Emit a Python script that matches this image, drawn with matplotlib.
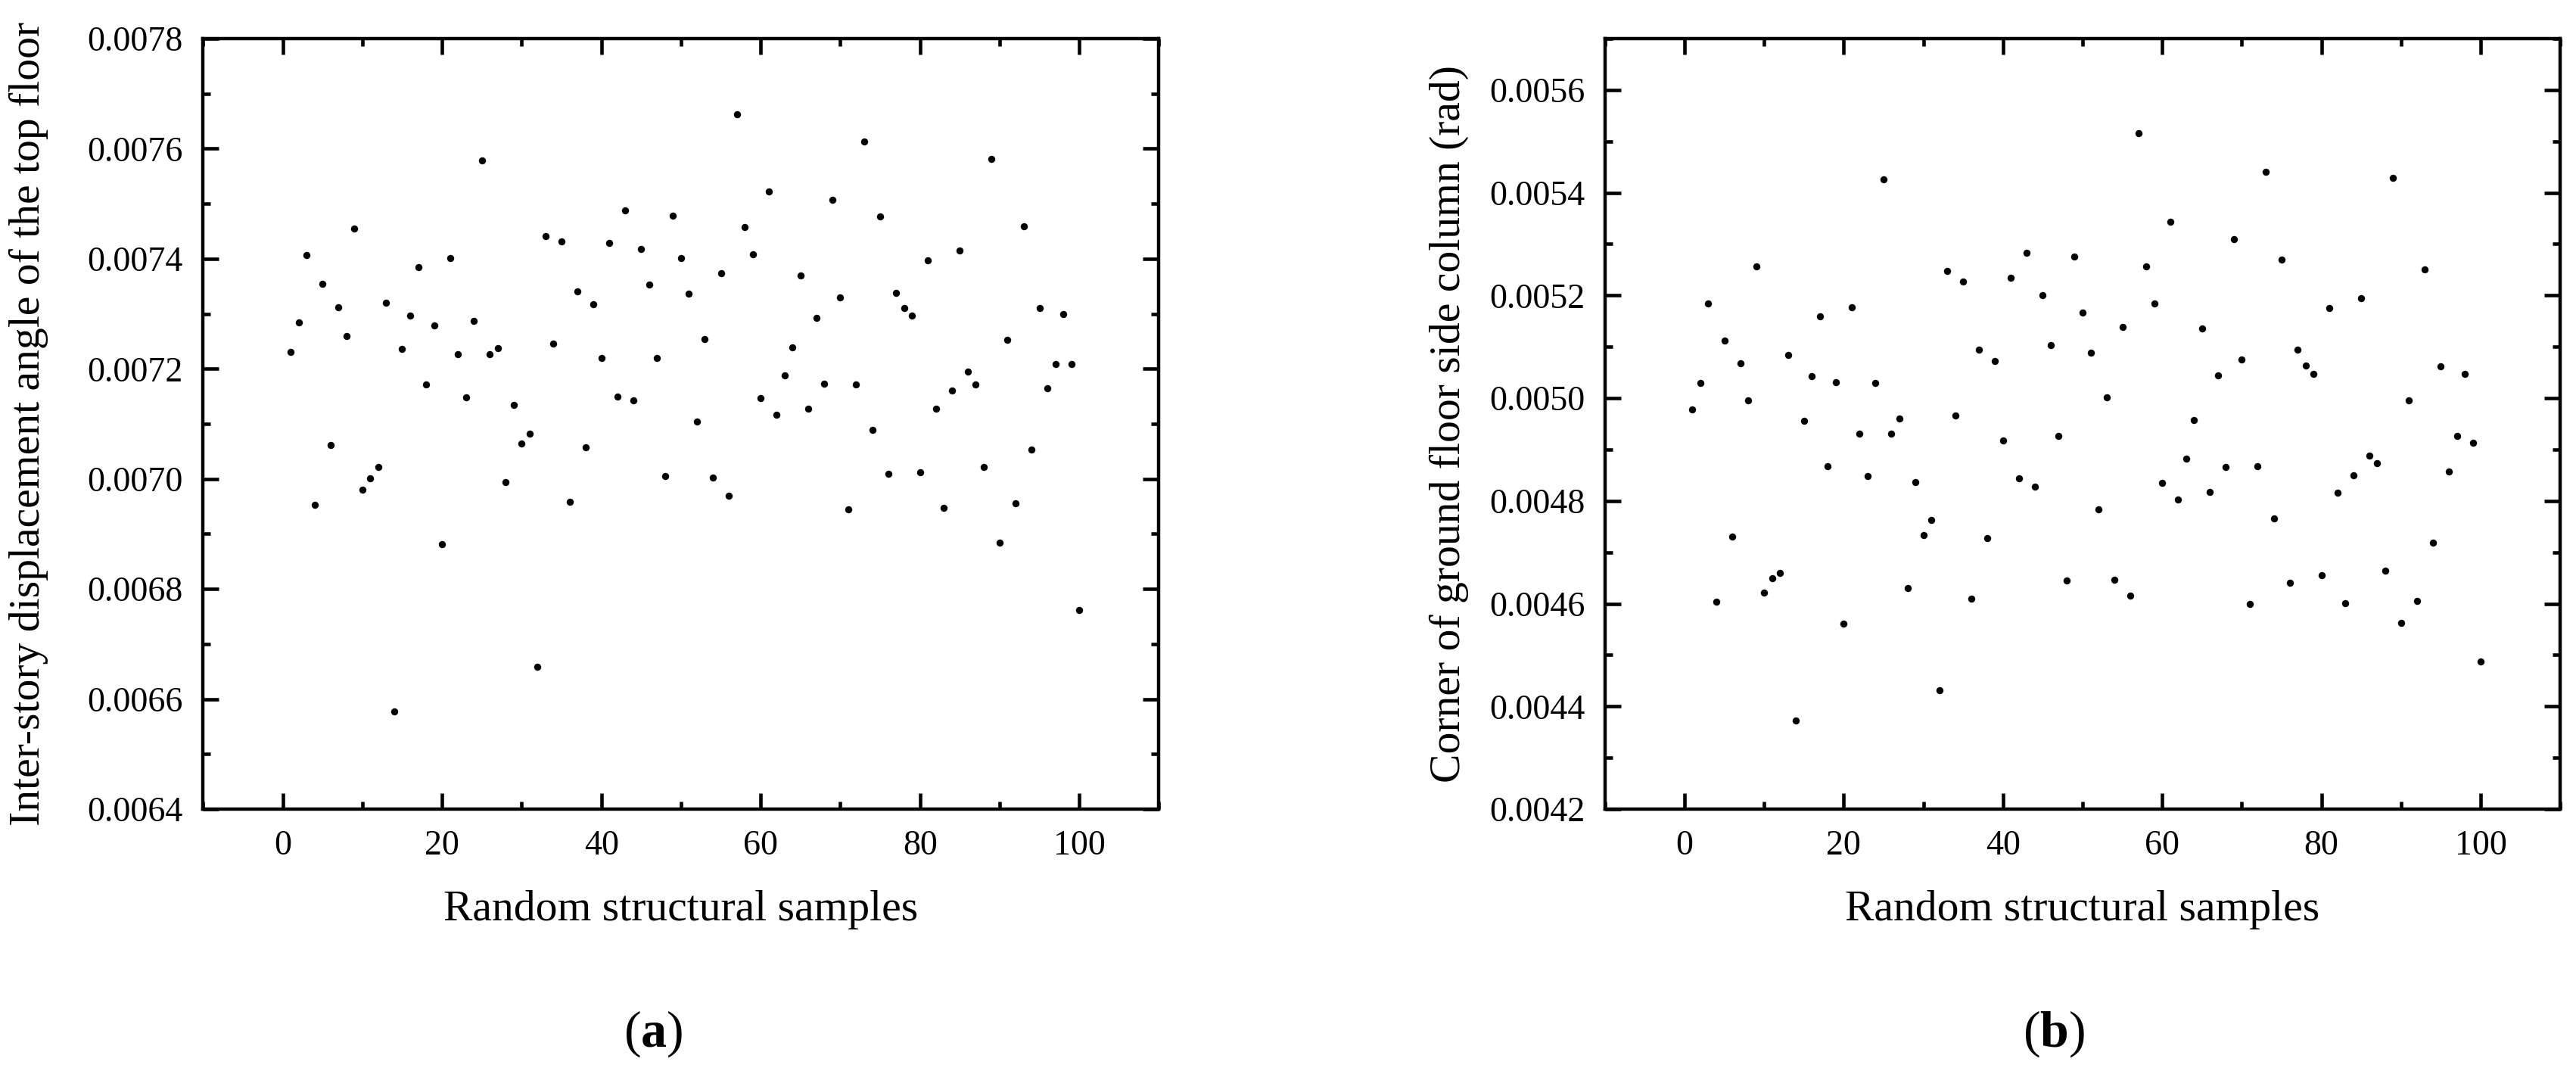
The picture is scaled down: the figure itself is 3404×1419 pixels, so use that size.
import numpy as np
import matplotlib
matplotlib.use("Agg")
import matplotlib.pyplot as plt
from matplotlib.ticker import MultipleLocator, FormatStrFormatter

plt.rcParams['font.family'] = ['Liberation Serif', 'DejaVu Serif']
plt.rcParams['mathtext.fontset'] = 'custom'
plt.rcParams['mathtext.rm'] = 'Liberation Serif'
plt.rcParams['mathtext.bf'] = 'Liberation Serif:bold'

samples = list(range(1, 101))

drift_top_floor = [
    0.007231, 0.007284, 0.007407, 0.006953, 0.007355, 0.007061, 0.007312, 0.007259, 0.007455, 0.006981,
    0.007001, 0.007021, 0.007320, 0.006578, 0.007236, 0.007297, 0.007384, 0.007172, 0.007279, 0.006882,
    0.007401, 0.007226, 0.007148, 0.007287, 0.007579, 0.007226, 0.007238, 0.006994, 0.007134, 0.007064,
    0.007082, 0.006658, 0.007441, 0.007246, 0.007431, 0.006959, 0.007341, 0.007058, 0.007317, 0.007219,
    0.007428, 0.007149, 0.007488, 0.007142, 0.007417, 0.007353, 0.007220, 0.007005, 0.007478, 0.007401,
    0.007337, 0.007104, 0.007254, 0.007003, 0.007374, 0.006969, 0.007662, 0.007457, 0.007408, 0.007147,
    0.007522, 0.007116, 0.007188, 0.007239, 0.007369, 0.007128, 0.007293, 0.007173, 0.007507, 0.007329,
    0.006944, 0.007172, 0.007613, 0.007089, 0.007477, 0.007009, 0.007338, 0.007311, 0.007296, 0.007012,
    0.007397, 0.007128, 0.006947, 0.007160, 0.007415, 0.007195, 0.007171, 0.007021, 0.007581, 0.006884,
    0.007253, 0.006955, 0.007459, 0.007053, 0.007310, 0.007164, 0.007209, 0.007299, 0.007209, 0.006762,
]

column_rotation = [
    0.004978, 0.005029, 0.005185, 0.004604, 0.005112, 0.004730, 0.005068, 0.004995, 0.005256, 0.004622,
    0.004649, 0.004659, 0.005084, 0.004373, 0.004956, 0.005043, 0.005159, 0.004868, 0.005031, 0.004561,
    0.005177, 0.004931, 0.004848, 0.005029, 0.005426, 0.004931, 0.004961, 0.004630, 0.004837, 0.004734,
    0.004763, 0.004431, 0.005248, 0.004966, 0.005227, 0.004609, 0.005095, 0.004728, 0.005073, 0.004917,
    0.005235, 0.004844, 0.005283, 0.004828, 0.005201, 0.005103, 0.004927, 0.004645, 0.005276, 0.005167,
    0.005089, 0.004783, 0.005001, 0.004647, 0.005139, 0.004615, 0.005516, 0.005256, 0.005185, 0.004835,
    0.005344, 0.004803, 0.004882, 0.004957, 0.005136, 0.004817, 0.005045, 0.004866, 0.005310, 0.005075,
    0.004599, 0.004867, 0.005441, 0.004766, 0.005270, 0.004641, 0.005094, 0.005064, 0.005047, 0.004655,
    0.005176, 0.004816, 0.004601, 0.004850, 0.005195, 0.004888, 0.004873, 0.004664, 0.005429, 0.004562,
    0.004995, 0.004605, 0.005250, 0.004718, 0.005062, 0.004857, 0.004926, 0.005047, 0.004913, 0.004488,
]

xlabel = "Random structural samples"
ylabel_a = "Inter-story displacement angle of the top floor"
ylabel_b = "Corner of ground floor side column (rad)"

fig = plt.figure(figsize=(34.04, 14.19), dpi=100)
ax_a = fig.add_axes([0.07882, 0.24665, 0.37109, 0.71741])
ax_b = fig.add_axes([0.62300, 0.24665, 0.37092, 0.71741])

TICK_FS = 33
LABEL_FS = 41.5


def style(ax, y, ylim, ylabel, ylabel_x):
    ax.scatter(samples, y, s=46, c='black', linewidths=0, zorder=3)
    ax.set_xlim(-10, 110)
    ax.set_ylim(*ylim)
    ax.xaxis.set_major_locator(MultipleLocator(20))
    ax.xaxis.set_minor_locator(MultipleLocator(10))
    ax.yaxis.set_major_locator(MultipleLocator(0.0002))
    ax.yaxis.set_minor_locator(MultipleLocator(0.0001))
    ax.yaxis.set_major_formatter(FormatStrFormatter('%.4f'))
    for sp in ax.spines.values():
        sp.set_linewidth(3.2)
    ax.tick_params(which='both', direction='in', top=True, right=True, width=3.3)
    ax.tick_params(which='major', length=15)
    ax.tick_params(which='minor', length=7.5)
    ax.tick_params(axis='y', which='major', labelsize=TICK_FS, pad=19)
    ax.tick_params(axis='x', which='major', labelsize=TICK_FS, pad=20)
    ax.set_xlabel(xlabel, fontsize=LABEL_FS)
    ax.set_ylabel(ylabel, fontsize=LABEL_FS)
    ax.xaxis.set_label_coords(0.5, -0.105)
    ax.yaxis.set_label_coords(ylabel_x, 0.5)


style(ax_a, drift_top_floor, (0.0064, 0.0078), ylabel_a, -0.162)
style(ax_b, column_rotation, (0.0042, 0.0057), ylabel_b, -0.1424)

fig.text(0.2535, 0.0254, r'($\mathbf{a}$)', fontsize=49, ha='center', va='baseline')
fig.text(0.7973, 0.0254, r'($\mathbf{b}$)', fontsize=49, ha='center', va='baseline')

fig.savefig("out.png", dpi=100)
